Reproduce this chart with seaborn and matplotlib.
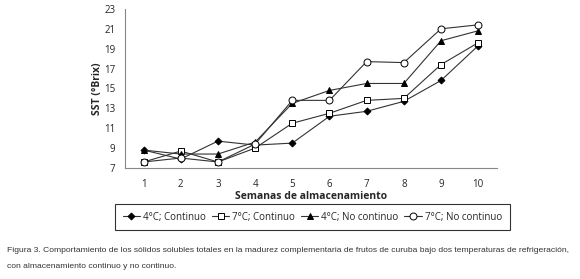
import pandas as pd
import seaborn as sns
import matplotlib.pyplot as plt

# Datos
semanas = [1, 2, 3, 4, 5, 6, 7, 8, 9, 10]
sst_4c_continuo = [8.8, 7.9, 9.7, 9.3, 9.5, 12.2, 12.7, 13.7, 15.8, 19.3]
sst_7c_continuo = [7.6, 8.7, 7.6, 9.0, 11.5, 12.5, 13.8, 14.0, 17.4, 19.6]
sst_4c_no_continuo = [8.8, 8.4, 8.4, 9.6, 13.5, 14.8, 15.5, 15.5, 19.8, 20.8]
sst_7c_no_continuo = [7.6, 8.0, 7.6, 9.4, 13.8, 13.8, 17.7, 17.6, 21.0, 21.4]

series = {
    "4°C; Continuo": (sst_4c_continuo, "D", "black", 3.5),
    "7°C; Continuo": (sst_7c_continuo, "s", "white", 5),
    "4°C; No continuo": (sst_4c_no_continuo, "^", "black", 5),
    "7°C; No continuo": (sst_7c_no_continuo, "o", "white", 5),
}

sns.set_style("white")
plt.rcParams["font.family"] = ["Open Sans", "DejaVu Sans"]

fig = plt.figure(figsize=(5.8, 2.79), dpi=100)
ax = fig.add_axes([0.2155, 0.398, 0.641, 0.57])

for nombre, (valores, marcador, relleno, tam) in series.items():
    df = pd.DataFrame({"semana": semanas, "sst": valores})
    sns.lineplot(data=df, x="semana", y="sst", ax=ax, color="#333333",
                 linewidth=0.8, marker=marcador, markersize=tam,
                 markerfacecolor=relleno, markeredgecolor="black",
                 markeredgewidth=0.7, label=nombre)

ax.set_xlim(0.5, 10.5)
ax.set_ylim(7, 23)
ax.set_xticks(semanas)
ax.set_xticks([s + 0.5 for s in semanas[:-1]] + [0.5, 10.5], minor=True)
ax.tick_params(axis="x", which="major", length=0, labelsize=7, pad=8)
ax.tick_params(axis="x", which="minor", length=3, color="#888888", direction="out")
ax.set_yticks(range(7, 24, 2))
ax.tick_params(axis="y", labelsize=7, length=3, color="#888888", direction="out", pad=4)
for lado in ["top", "right"]:
    ax.spines[lado].set_visible(False)
for lado in ["left", "bottom"]:
    ax.spines[lado].set_color("#888888")
    ax.spines[lado].set_linewidth(0.8)

ax.set_xlabel("Semanas de almacenamiento", fontsize=7.5, fontweight="bold", labelpad=1)
ax.set_ylabel("SST (°Brix)", fontsize=7.5, fontweight="bold", labelpad=1)

leg = ax.legend(loc="upper center", bbox_to_anchor=(0.504, -0.225), ncol=4,
                fontsize=7, frameon=True, fancybox=False, handlelength=1.8,
                handletextpad=0.3, columnspacing=0.6, borderpad=0.8,
                borderaxespad=0)
leg.get_frame().set_edgecolor("black")
leg.get_frame().set_linewidth(0.8)

fuente_pie = ["Liberation Sans Narrow", "Liberation Sans", "DejaVu Sans"]
fig.text(0.012, 0.095, "Figura 3. Comportamiento de los sólidos solubles totales en la madurez complementaria de frutos de curuba bajo dos temperaturas de refrigeración,",
         fontsize=6.1, family=fuente_pie, color="#333333")
fig.text(0.012, 0.04, "con almacenamiento continuo y no continuo.",
         fontsize=6.1, family=fuente_pie, color="#333333")

fig.savefig("out.png", dpi=100)
